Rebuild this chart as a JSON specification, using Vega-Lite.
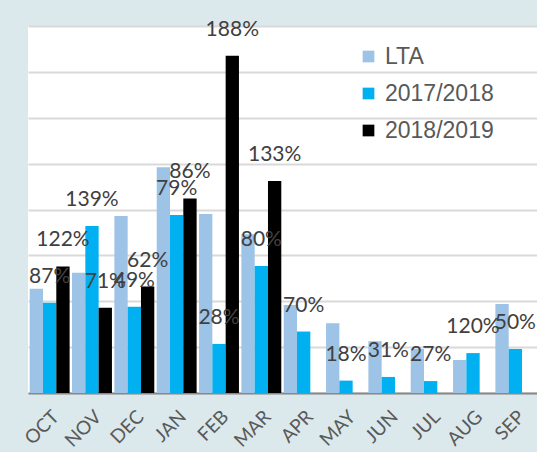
{
  "$schema": "https://vega.github.io/schema/vega-lite/v6.json",
  "width": 509,
  "height": 367,
  "autosize": "none",
  "padding": {"left": 28, "top": 26, "right": 0, "bottom": 59},
  "background": "#dbe9ec",
  "view": {"fill": "white", "stroke": null},
  "config": {"font": "Lato"},
  "data": {
    "values": [
      {"month": "OCT", "series": "LTA", "value": 2.27},
      {"month": "OCT", "series": "2017/2018", "value": 1.97, "label": "87%"},
      {"month": "OCT", "series": "2018/2019", "value": 2.76, "label": "122%"},
      {"month": "NOV", "series": "LTA", "value": 2.62},
      {"month": "NOV", "series": "2017/2018", "value": 3.64, "label": "139%"},
      {"month": "NOV", "series": "2018/2019", "value": 1.86, "label": "71%"},
      {"month": "DEC", "series": "LTA", "value": 3.86},
      {"month": "DEC", "series": "2017/2018", "value": 1.88, "label": "49%"},
      {"month": "DEC", "series": "2018/2019", "value": 2.32, "label": "62%"},
      {"month": "JAN", "series": "LTA", "value": 4.92},
      {"month": "JAN", "series": "2017/2018", "value": 3.88, "label": "79%"},
      {"month": "JAN", "series": "2018/2019", "value": 4.24, "label": "86%"},
      {"month": "FEB", "series": "LTA", "value": 3.9},
      {"month": "FEB", "series": "2017/2018", "value": 1.07, "label": "28%"},
      {"month": "FEB", "series": "2018/2019", "value": 7.35, "label": "188%"},
      {"month": "MAR", "series": "LTA", "value": 3.46},
      {"month": "MAR", "series": "2017/2018", "value": 2.77, "label": "80%"},
      {"month": "MAR", "series": "2018/2019", "value": 4.62, "label": "133%"},
      {"month": "APR", "series": "LTA", "value": 1.92},
      {"month": "APR", "series": "2017/2018", "value": 1.34, "label": "70%"},
      {"month": "MAY", "series": "LTA", "value": 1.52},
      {"month": "MAY", "series": "2017/2018", "value": 0.27, "label": "18%"},
      {"month": "JUN", "series": "LTA", "value": 1.13},
      {"month": "JUN", "series": "2017/2018", "value": 0.35, "label": "31%"},
      {"month": "JUL", "series": "LTA", "value": 0.96},
      {"month": "JUL", "series": "2017/2018", "value": 0.26, "label": "27%"},
      {"month": "AUG", "series": "LTA", "value": 0.72},
      {"month": "AUG", "series": "2017/2018", "value": 0.87, "label": "120%"},
      {"month": "SEP", "series": "LTA", "value": 1.94},
      {"month": "SEP", "series": "2017/2018", "value": 0.96, "label": "50%"}
    ]
  },
  "encoding": {
    "x": {
      "field": "month",
      "type": "nominal",
      "sort": ["OCT", "NOV", "DEC", "JAN", "FEB", "MAR", "APR", "MAY", "JUN", "JUL", "AUG", "SEP"],
      "scale": {"paddingInner": 0.057, "paddingOuter": 0.04},
      "axis": {
        "title": null,
        "labelAngle": -45,
        "labelFont": "Lato",
        "labelFontSize": 19,
        "labelColor": "#595959",
        "labelPadding": 14,
        "ticks": false,
        "domainColor": "#888888",
        "domainWidth": 2,
        "grid": false
      }
    },
    "xOffset": {
      "field": "series",
      "type": "nominal",
      "sort": ["LTA", "2017/2018", "2018/2019"],
      "scale": {"domain": ["LTA", "2017/2018", "2018/2019"], "paddingInner": 0, "paddingOuter": 0}
    },
    "y": {
      "field": "value",
      "type": "quantitative",
      "scale": {"domain": [0, 8], "nice": false},
      "axis": {
        "title": null,
        "labels": false,
        "ticks": false,
        "domain": false,
        "tickCount": 8,
        "gridColor": "#d9d9d9",
        "gridWidth": 1.8
      }
    }
  },
  "layer": [
    {
      "mark": {"type": "bar"},
      "encoding": {
        "color": {
          "field": "series",
          "type": "nominal",
          "sort": ["LTA", "2017/2018", "2018/2019"],
          "scale": {"domain": ["LTA", "2017/2018", "2018/2019"], "range": ["#9dc3e6", "#00b0f0", "#000000"]},
          "legend": {
            "title": null,
            "orient": "none",
            "legendX": 329,
            "legendY": 19,
            "symbolType": "square",
            "symbolSize": 137,
            "symbolStrokeWidth": 0,
            "labelFont": "Liberation Sans",
            "labelFontSize": 23,
            "labelColor": "#595959",
            "labelOffset": 5,
            "rowPadding": 13
          }
        }
      }
    },
    {
      "transform": [{"filter": "datum.label != null"}],
      "mark": {"type": "text", "font": "Lato", "fontSize": 21, "color": "#404040", "baseline": "middle", "dy": -26},
      "encoding": {
        "text": {"field": "label"}
      }
    }
  ]
}
